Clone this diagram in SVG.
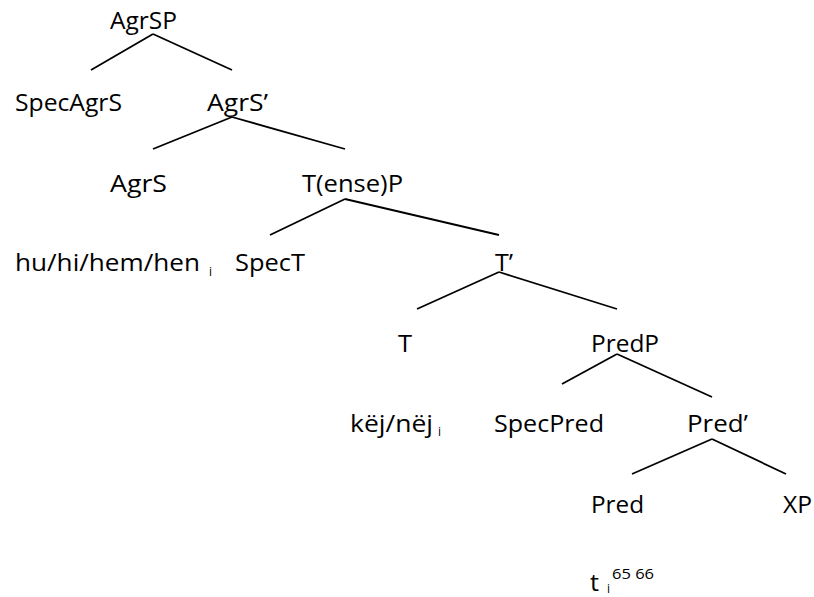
<svg xmlns="http://www.w3.org/2000/svg" width="814" height="597" viewBox="0 0 814 597">
<style>
.n{font-family:"Open Sans","Liberation Sans",sans-serif;font-weight:400;font-size:24px;fill:#000}
.s{font-family:"Open Sans","Liberation Sans",sans-serif;font-weight:400;font-size:12px;fill:#000}
.sup{font-family:"Open Sans","Liberation Sans",sans-serif;font-weight:400;font-size:15px;fill:#000}
#edges line{stroke:#000;stroke-width:1.8;stroke-linecap:butt}
</style>
<rect width="814" height="597" fill="#fff"/>
<g id="edges">
<line x1="153" y1="34" x2="91" y2="70"/>
<line x1="153" y1="34" x2="232" y2="70"/>
<line x1="232" y1="117" x2="153" y2="149"/>
<line x1="232" y1="117" x2="345" y2="149"/>
<line x1="345" y1="199" x2="270" y2="235"/>
<line x1="345" y1="199" x2="499" y2="235"/>
<line x1="499" y1="272" x2="417" y2="309"/>
<line x1="499" y1="272" x2="617" y2="309"/>
<line x1="617" y1="354" x2="562" y2="384"/>
<line x1="617" y1="354" x2="712" y2="397"/>
<line x1="712" y1="439" x2="632" y2="474"/>
<line x1="712" y1="439" x2="786" y2="474"/>
</g>
<g id="AgrSP"><text class="n" x="110" y="29" textLength="67" lengthAdjust="spacingAndGlyphs">AgrSP</text></g>
<g id="SpecAgrS"><text class="n" x="15" y="111" textLength="107" lengthAdjust="spacingAndGlyphs">SpecAgrS</text></g>
<g id="AgrS1"><text class="n" x="207" y="111" textLength="61" lengthAdjust="spacingAndGlyphs">AgrS’</text></g>
<g id="AgrS"><text class="n" x="110" y="192" textLength="57" lengthAdjust="spacingAndGlyphs">AgrS</text></g>
<g id="TenseP"><text class="n" x="302" y="192" textLength="101" lengthAdjust="spacingAndGlyphs">T(ense)P</text></g>
<g id="hu"><text class="n" x="15" y="271" textLength="185" lengthAdjust="spacingAndGlyphs">hu/hi/hem/hen</text><text class="s" x="209" y="276">i</text></g>
<g id="SpecT"><text class="n" x="235" y="271" textLength="70" lengthAdjust="spacingAndGlyphs">SpecT</text></g>
<g id="T1"><text class="n" x="495" y="271" textLength="18" lengthAdjust="spacingAndGlyphs">T’</text></g>
<g id="T"><text class="n" x="398" y="352" textLength="14" lengthAdjust="spacingAndGlyphs">T</text></g>
<g id="PredP"><text class="n" x="591" y="352" textLength="68" lengthAdjust="spacingAndGlyphs">PredP</text></g>
<g id="kej"><text class="n" x="350" y="432" textLength="83" lengthAdjust="spacingAndGlyphs">këj/nëj</text><text class="s" x="438" y="436">i</text></g>
<g id="SpecPred"><text class="n" x="494" y="432" textLength="110" lengthAdjust="spacingAndGlyphs">SpecPred</text></g>
<g id="Pred1"><text class="n" x="687" y="432" textLength="61" lengthAdjust="spacingAndGlyphs">Pred’</text></g>
<g id="Pred"><text class="n" x="591" y="513" textLength="53" lengthAdjust="spacingAndGlyphs">Pred</text></g>
<g id="XP"><text class="n" x="783" y="513" textLength="29" lengthAdjust="spacingAndGlyphs">XP</text></g>
<g id="t"><text class="n" x="590" y="591" textLength="9" lengthAdjust="spacingAndGlyphs">t</text><text class="s" x="607" y="593">i</text><text class="sup" x="612" y="579" textLength="42" lengthAdjust="spacingAndGlyphs">65 66</text></g>
</svg>
